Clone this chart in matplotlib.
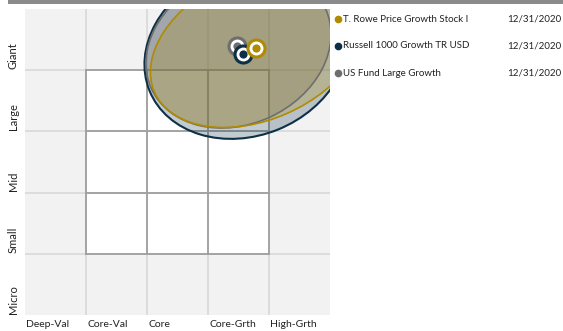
import matplotlib
matplotlib.use("Agg")
import matplotlib.pyplot as plt
from matplotlib.patches import Ellipse, Rectangle
from matplotlib.lines import Line2D

plt.rcParams['font.family'] = ['Lato', 'DejaVu Sans']

# style box axes
size_labels = ["Micro", "Small", "Mid", "Large", "Giant"]
style_labels = ["Deep-Val", "Core-Val", "Core", "Core-Grth", "High-Grth"]

# holdings: centroid dots + ownership zones
names = ["US Fund Large Growth", "Russell 1000 Growth TR USD", "T. Rowe Price Growth Stock I"]
dates = ["12/31/2020", "12/31/2020", "12/31/2020"]
colors = ["#6e6e6e", "#0d3047", "#b08b00"]
style_x = [3.48, 3.57, 3.79]
size_y = [4.40, 4.27, 4.36]
zone_x = [3.50, 3.63, 3.82]
zone_y = [4.35, 4.31, 4.39]
zone_w = [3.14, 3.43, 3.71]
zone_h = [2.46, 2.76, 2.39]
zone_angle = [24.5, 22.1, 23.9]
zone_alpha = [0.3, 0.25, 0.25]

fig = plt.figure(figsize=(5.63, 3.31), dpi=100)
ax = fig.add_axes([25/563, 16/331, 305/563, 306/331])
ax.set_xlim(0, 5)
ax.set_ylim(0, 5)
ax.axis('off')

# background + light grid
ax.add_patch(Rectangle((0, 0), 5, 5, facecolor="#f2f2f2", edgecolor="none", zorder=0))
ax.add_patch(Rectangle((1, 1), 3, 3, facecolor="white", edgecolor="none", zorder=0.5))
for k in range(1, 5):
    ax.axvline(k, color="#dadada", lw=1.3, zorder=1)
    ax.axhline(k, color="#dadada", lw=1.3, zorder=1)
# the 3x3 style box
for k in range(1, 5):
    ax.plot([k, k], [1, 4], color="#a0a0a0", lw=1.3, zorder=2)
    ax.plot([1, 4], [k, k], color="#a0a0a0", lw=1.3, zorder=2)

# ownership zones
order = [1, 0, 2]
for i in order:
    e = Ellipse((zone_x[i], zone_y[i]), zone_w[i], zone_h[i], angle=zone_angle[i],
                facecolor=colors[i], alpha=zone_alpha[i], edgecolor="none", zorder=3)
    ax.add_patch(e)
for i in order:
    e = Ellipse((zone_x[i], zone_y[i]), zone_w[i], zone_h[i], angle=zone_angle[i],
                facecolor="none", edgecolor=colors[i], lw=1.5 if i == 1 else 1.2, zorder=4)
    ax.add_patch(e)

# centroids
for i in [0, 1, 2]:
    ax.scatter(style_x[i], size_y[i], s=210, color=colors[i], zorder=5 + i, linewidths=0)
    ax.scatter(style_x[i], size_y[i], s=100, color="white", zorder=5 + i, linewidths=0)
    ax.scatter(style_x[i], size_y[i], s=35, color=colors[i], zorder=5 + i, linewidths=0)

# labels
for j, lab in enumerate(size_labels):
    ax.text(-0.19, j + 0.02, lab, rotation=90, rotation_mode='anchor', ha='left', va='center',
            fontsize=8, color="#222222", clip_on=False)
for j, lab in enumerate(style_labels):
    ax.text(j + 0.02, -0.16, lab, ha='left', va='center', fontsize=7.5, color="#222222", clip_on=False)

# top bar
fig.patches.append(Rectangle((8/563, 1 - 4/331), 1, 4/331, transform=fig.transFigure,
                             facecolor="#8a8a8a", edgecolor="none"))

# legend
for r, i in enumerate([2, 1, 0]):
    yy = 1 - (19 + 27 * r) / 331
    fig.add_artist(Line2D([337.5/563], [yy], marker='o', markersize=4.5, color=colors[i],
                          linestyle='none', transform=fig.transFigure))
    fig.text(343/563, yy, names[i], ha='left', va='center', fontsize=7, color="#222222")
    fig.text(507/563, yy, dates[i], ha='left', va='center', fontsize=7, color="#222222")

fig.savefig("out.png", dpi=100)
